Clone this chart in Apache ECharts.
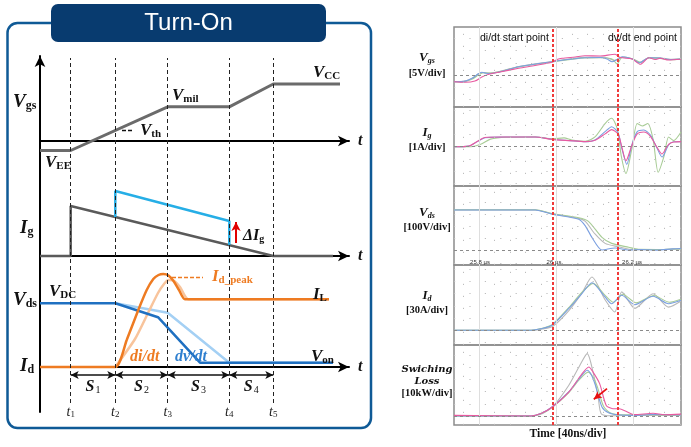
<!DOCTYPE html>
<html>
<head>
<meta charset="utf-8">
<script src="https://cdn.jsdelivr.net/npm/echarts@6/dist/echarts.min.js"></script>
<style>
html, body { margin: 0; padding: 0; background: #fff; }
#chart { width: 691px; height: 447px; }
</style>
</head>
<body>
<div id="chart"></div>
<script>
// ---------- left: turn-on sketch (time measured from the vertical axis) ----------
const tMarks = [30.7, 75.3, 127.7, 189.3, 233.3];
const tNames = ['1', '2', '3', '4', '5'];

const vgsTime = [0, 30.7, 127.7, 189.3, 233.3, 300];
const vgsLevel = [-2.5, -2.5, 9, 9, 15, 15];
const vthLevel = 2.9;

const igTime = [0, 30.7, 30.7, 233.3, 293];
const igLevel = [0, 0, 5, 0, 0];
const igBoostTime = [75.3, 75.3, 189.3, 189.3];
const igBoostLevel = [3.9, 6.5, 3.5, 1.1];

const vdsTime = [0, 75.3, 118, 160, 293];
const vdsLevel = [6.37, 6.37, 4.98, 0.43, 0.43];
const vdsRefTime = [75.3, 127.7, 189.3, 293];
const vdsRefLevel = [6.37, 5.43, 0.43, 0.43];
const idTime = [0, 75.3, 86.7, 98.3, 106.7, 113.3, 118.5, 123.3, 128.5, 133.5, 139, 145, 289];
const idLevel = [0, 0, 2.7, 5.7, 7.7, 8.8, 9.2, 9.3, 9.15, 8.6, 7.7, 6.77, 6.77];
const idRefTime = [75.3, 95, 108, 118, 124, 128.5, 133.5, 140, 148.3, 289];
const idRefLevel = [0, 2.8, 5.4, 7.4, 8.3, 8.7, 8.65, 8.0, 6.77, 6.77];
const idPeakLevel = 9.0;

// ---------- right: measured waveforms [time ns, divisions above baseline] ----------
const vgsGrey = [[25736,-0.55],[25765,-0.5],[25784,-0.25],[25799,0.1],[25810,0.2],[25830,0.16],[25903,0.7],[25989,1.1],[26074,1.45],[26125,1.45],[26150,1.2],[26162,1.35],[26175,1.48],[26196,1.33],[26216,1.02],[26239,1.44],[26268,1.4],[26294,1.28],[26322,1.32]];
const vgsGreen = [[25736,-0.55],[25765,-0.52],[25785,-0.3],[25800,0.02],[25812,0.18],[25830,0.15],[25903,0.66],[25989,1.07],[26074,1.4],[26120,1.42],[26145,1.3],[26157,0.9],[26170,1.45],[26196,1.33],[26218,1.05],[26239,1.4],[26268,1.36],[26294,1.25],[26322,1.3]];
const vgsBlue = [[25736,-0.55],[25765,-0.5],[25783,-0.27],[25798,0.08],[25808,0.22],[25819,0.14],[25829,0.12],[25903,0.68],[25989,1.09],[26074,1.42],[26113,1.43],[26131,1.31],[26144,1.09],[26155,1.23],[26170,1.5],[26196,1.31],[26215,1.0],[26239,1.42],[26268,1.39],[26294,1.27],[26322,1.31]];
const vgsPink = [[25736,-0.55],[25765,-0.6],[25790,-0.5],[25808,-0.16],[25826,0.06],[25855,0.25],[25903,0.55],[25945,0.78],[25989,1.04],[26002,1.27],[26015,1.37],[26049,1.48],[26074,1.58],[26113,1.56],[26152,1.7],[26165,1.43],[26196,1.31],[26217,0.88],[26239,1.42],[26255,1.27],[26268,1.37],[26290,1.23],[26322,1.29]];

const igGreen = [[25736,0],[25780,0],[25805,0.2],[25830,0.62],[25870,0.78],[25946,0.8],[25990,0.65],[26020,0.72],[26040,0.55],[26075,0.45],[26100,0.8],[26126,1.9],[26143,2.33],[26158,1.4],[26168,-0.8],[26180,-2.2],[26195,-0.2],[26209,1.9],[26222,1.7],[26236,1.9],[26250,0.6],[26263,-2.1],[26278,-0.8],[26290,0.8],[26303,0.5],[26322,1.2]];
const igBlue = [[25736,0],[25774,0.05],[25799,0.47],[25816,0.74],[25860,0.79],[25946,0.8],[25989,0.61],[26035,0.5],[26075,0.41],[26100,0.55],[26126,1.23],[26143,1.64],[26160,1.1],[26169,-0.11],[26182,-1.45],[26195,0.14],[26209,1.23],[26226,1.37],[26243,0.96],[26260,-0.11],[26273,-0.85],[26290,0.14],[26303,0.41],[26322,0.41]];
const igPink = [[25736,0],[25774,0.05],[25797,0.45],[25815,0.76],[25860,0.8],[25946,0.8],[25989,0.6],[26035,0.5],[26075,0.42],[26100,0.52],[26126,1.05],[26143,1.4],[26160,1.0],[26169,0],[26180,-1.15],[26195,0.1],[26209,1.05],[26226,1.2],[26243,0.85],[26260,-0.05],[26273,-0.6],[26290,0.2],[26303,0.38],[26322,0.42]];

const vdsGrey = [[25736,3.34],[25946,3.34],[25989,3.02],[26058,2.65],[26075,2.4],[26100,1.37],[26126,0.6],[26160,0.33],[26200,0.08],[26250,0.08],[26300,0.12],[26322,0.15]];
const vdsGreen = [[25736,3.36],[25946,3.36],[25989,3.05],[26058,2.7],[26083,2.41],[26118,1.09],[26143,0.6],[26187,0.28],[26212,0.11],[26260,0.1],[26300,0.14],[26322,0.15]];
const vdsBlue = [[25736,3.34],[25946,3.34],[25989,3.0],[26058,2.58],[26075,2.04],[26092,1.09],[26118,0.06],[26152,0.22],[26187,0.06],[26220,0.1],[26260,0.05],[26300,0.15],[26322,0.18]];

const idGrey = [[25736,0],[25940,0],[25965,0.1],[25992,0.35],[26032,1.6],[26066,3.05],[26092,4.37],[26126,2.5],[26151,1.5],[26169,3.15],[26203,1.8],[26250,3.0],[26290,1.9],[26322,2.4]];
const idGreen = [[25736,0],[25935,0],[25960,0.14],[25989,0.45],[26032,1.85],[26066,3.1],[26095,3.85],[26128,2.8],[26147,2.3],[26172,2.95],[26206,2.25],[26252,2.85],[26292,2.3],[26322,2.55]];
const idBlue = [[25736,0],[25935,0],[25960,0.12],[25989,0.41],[26032,1.77],[26066,3.0],[26092,3.9],[26126,2.73],[26143,2.18],[26169,2.87],[26203,2.1],[26250,2.79],[26290,2.18],[26322,2.46]];

const lossGrey = [[25736,0],[25940,0],[25965,0.2],[25992,0.8],[26032,2.5],[26060,4.1],[26080,5.11],[26095,3.6],[26108,1.6],[26116,0.19],[26140,0.02],[26200,0.05],[26322,0.05]];
const lossGreen = [[25736,0],[25935,0],[25960,0.18],[25989,0.7],[26032,1.9],[26060,3.0],[26082,3.6],[26095,3.2],[26106,2.4],[26122,0.8],[26140,0.25],[26170,0.1],[26250,0.1],[26322,0.08]];
const lossBlue = [[25736,0],[25935,0],[25960,0.2],[25989,0.74],[26032,1.97],[26060,3.1],[26080,3.75],[26090,3.4],[26101,2.52],[26118,0.74],[26135,0.27],[26160,0.1],[26200,0.05],[26250,0.12],[26322,0.08]];
const lossPink = [[25736,0.05],[25935,0],[25960,0.2],[25989,0.72],[26032,1.95],[26065,3.4],[26084,4.02],[26095,3.6],[26112,2.65],[26129,0.87],[26146,0.6],[26163,0.6],[26180,0.39],[26202,0.11],[26250,0.22],[26280,0.1],[26322,0.15]];

const scopeMarks = [25800, 26000, 26200];
const scopeMarkNames = ['25.8 \u00b5s', '26 \u00b5s', '26.2 \u00b5s'];
const cursorTimes = [25992, 26160];
const lossArrow = [[26131, 2.24], [26097, 1.37]];
const panelNames = ['V|gs', 'I|g', 'V|ds', 'I|d', 'Swiching Loss'];
const panelScales = ['[5V/div]', '[1A/div]', '[100V/div]', '[30A/div]', '[10kW/div]'];

// ---------- layout ----------
const SERIF = '"Liberation Serif","Times New Roman",serif';
const SANS = '"Liberation Sans",Arial,sans-serif';
const BLACK = '#111';
const ORANGE = '#ee7b22';
const PINK = '#e85aa0', BLUE = '#7a9fe0', GREEN = '#a8cc96', GREY = '#b8b8b8';

const zip = (a, b) => a.map((v, i) => [v, b[i]]);

const grids = [], xAxes = [], yAxes = [], series = [];
const hidden = { show: false };

function band(base, scale, lo, hi) {
  return { left: 40, width: 309, top: base - hi * scale, height: (hi - lo) * scale };
}
function addGrid(g, xa, ya) {
  grids.push(Object.assign({ outerBoundsMode: 'none', containLabel: false }, g));
  const i = grids.length - 1;
  xAxes.push(Object.assign({ gridIndex: i, type: 'value' }, xa));
  yAxes.push(Object.assign({ gridIndex: i, type: 'value' }, ya));
  return i;
}
const arrowX = {
  min: 0, max: 309,
  axisLine: { show: true, onZero: true, symbol: ['none', 'arrow'], symbolSize: [8, 11], lineStyle: { color: '#000', width: 2 } },
  axisTick: hidden, axisLabel: hidden, splitLine: hidden
};
const plainY = (lo, hi) => ({ min: lo, max: hi, axisLine: hidden, axisTick: hidden, axisLabel: hidden, splitLine: hidden });

const gVgs = addGrid(band(141, 3.8, -10.5, 21.6), arrowX, plainY(-10.5, 21.6));
const gIg = addGrid(band(256, 10, -0.6, 7.5), arrowX, plainY(-0.6, 7.5));
const gId = addGrid(band(367, 10, -3.6, 10.5), arrowX, plainY(-3.6, 10.5));
const gFrame = addGrid({ left: 40, width: 309, top: 56, height: 356 },
  { min: 0, max: 309, show: false },
  { min: 0, max: 1, axisLine: { show: true, onZero: false, symbol: ['none', 'arrow'], symbolSize: [8, 11], lineStyle: { color: '#000', width: 2 } },
    axisTick: hidden, axisLabel: hidden, splitLine: hidden });
const gDash = addGrid({ left: 40, width: 309, top: 58, height: 345 },
  { min: 0, max: 309, show: false }, { min: 0, max: 1, show: false });

function subRich(size, color) {
  return {
    i: { fontFamily: SERIF, fontStyle: 'italic', fontWeight: 'bold', fontSize: size, color: color },
    s: { fontFamily: SERIF, fontSize: Math.round(size * 0.62), color: color, verticalAlign: 'bottom', padding: [0, 0, 0, 1] }
  };
}
function lineSeries(grid, data, color, width, extra) {
  return Object.assign({
    type: 'line', xAxisIndex: grid, yAxisIndex: grid, data: data,
    symbol: 'none', showSymbol: false, silent: true, animation: false,
    lineStyle: { color: color, width: width }
  }, extra || {});
}

// Vgs with Vth marker
series.push(lineSeries(gVgs, zip(vgsTime, vgsLevel), '#6b6b6b', 3, {
  markLine: { silent: true, animation: false, symbol: 'none', label: { show: false },
    data: [[{ coord: [82, vthLevel], lineStyle: { color: BLACK, type: [4, 2], width: 1.3 } }, { coord: [93, vthLevel] }]] }
}));
// Ig
series.push(lineSeries(gIg, zip(igTime, igLevel), '#5a5a5a', 2.5));
series.push(lineSeries(gIg, zip(igBoostTime, igBoostLevel), '#26aee6', 2.5, {
  markLine: { silent: true, animation: false, symbol: ['none', 'arrow'], symbolSize: [7, 9], label: { show: false },
    data: [[{ coord: [196, 1.3], lineStyle: { color: '#e00000', type: 'solid', width: 2 } }, { coord: [196, 3.4] }]] }
}));
// Vds / Id
series.push(lineSeries(gId, zip(vdsRefTime, vdsRefLevel), '#a4d0f4', 2.5));
series.push(lineSeries(gId, zip(idRefTime, idRefLevel), '#f8c49c', 2.5, { smooth: 0.2 }));
series.push(lineSeries(gId, zip(vdsTime, vdsLevel), '#1f70c1', 2.5));
series.push(lineSeries(gId, zip(idTime, idLevel), ORANGE, 2.5, {
  smooth: 0.2,
  markLine: { silent: true, animation: false, symbol: 'none', label: { show: false },
    data: [[{ coord: [132, idPeakLevel], lineStyle: { color: ORANGE, type: [4, 2], width: 1.3 } }, { coord: [163, idPeakLevel] }]] }
}));
// S intervals
series.push(lineSeries(gId, [], BLACK, 1, {
  markLine: {
    silent: true, animation: false, symbol: ['arrow', 'arrow'], symbolSize: [6, 8],
    data: tMarks.slice(0, 4).map((t, i) => [
      { coord: [t, -0.8], lineStyle: { color: BLACK, type: 'solid', width: 1.5 },
        label: { show: true, position: 'insideMiddleBottom', distance: 4,
          formatter: '{i|S}{s|' + (i + 1) + '}', rich: subRich(16, BLACK) } },
      { coord: [tMarks[i + 1], -0.8] }
    ])
  }
}));
// dashed time marks with t labels
series.push(lineSeries(gDash, [], BLACK, 1, {
  markLine: {
    silent: true, animation: false, symbol: 'none',
    data: tMarks.map((t, i) => ({
      xAxis: t, lineStyle: { color: '#222', type: [4, 3], width: 1 },
      label: { show: true, position: 'start', distance: 2, formatter: '{i|t}{s|' + tNames[i] + '}', rich: {
        i: { fontFamily: SERIF, fontStyle: 'italic', fontSize: 14, color: '#222' },
        s: { fontFamily: SERIF, fontSize: 9, color: '#222', verticalAlign: 'bottom' } } }
    }))
  }
}));

// ---------- right panels ----------
const panelTop = [27, 107, 186, 265, 345];
const panelBottom = [107, 186, 265, 345, 425];
const panelBase = [75, 146.7, 250.7, 330.3, 416];
const DIV_PX = 12.2;
const panelTraces = [
  [vgsGrey, vgsGreen, vgsBlue, vgsPink],
  [igGreen, igBlue, igPink],
  [vdsGrey, vdsGreen, vdsBlue],
  [idGrey, idGreen, idBlue],
  [lossGrey, lossGreen, lossBlue, lossPink]
];
const panelColors = [
  [GREY, GREEN, BLUE, PINK],
  [GREEN, BLUE, PINK],
  [GREY, GREEN, BLUE],
  [GREY, GREEN, BLUE],
  [GREY, GREEN, BLUE, PINK]
];
const divTimes = [];
for (let t = 25760; t < 26322; t += 40) divTimes.push(t);

panelTop.forEach((top, p) => {
  const lo = -(panelBottom[p] - panelBase[p]) / DIV_PX;
  const hi = (panelBase[p] - top) / DIV_PX;
  const g = addGrid(
    { left: 454, width: 227, top: top, height: panelBottom[p] - top, show: true, borderColor: '#8c8c8c', borderWidth: 1.5 },
    { min: 25736, max: 26322, show: false },
    { min: lo, max: hi, show: false });
  const rows = [];
  for (let v = Math.ceil(lo); v <= Math.floor(hi); v++) rows.push(v);
  const lines = []
    .concat(divTimes.map(t => ({ xAxis: t, lineStyle: { color: '#bdbdbd', type: [1.2, 10.8], width: 1 } })))
    .concat(rows.filter(v => v !== 0).map(v => ({ yAxis: v, lineStyle: { color: '#bdbdbd', type: [1.2, 14.2], width: 1 } })))
    .concat(scopeMarks.map(t => ({ xAxis: t, lineStyle: { color: '#dedede', type: 'solid', width: 1 } })))
    .concat([{ yAxis: 0, lineStyle: { color: '#8a8a8a', type: [3, 3], width: 1 } }]);
  series.push(lineSeries(g, [], '#000', 1, {
    z: 1,
    markLine: { silent: true, animation: false, symbol: 'none', label: { show: false }, data: lines }
  }));
  panelTraces[p].forEach((tr, k) => {
    series.push(lineSeries(g, tr, panelColors[p][k], 1.1, { smooth: 0.25, z: 3 }));
  });
  series.push(lineSeries(g, [], '#000', 1, {
    z: 5,
    markLine: { silent: true, animation: false, symbol: 'none', label: { show: false },
      data: cursorTimes.map(t => ({ xAxis: t, lineStyle: { color: '#f03a3a', type: [3, 2], width: 2 } })) }
  }));
  if (p === 4) {
    series.push(lineSeries(g, [], '#000', 1, {
      z: 6,
      markLine: { silent: true, animation: false, symbol: ['none', 'arrow'], symbolSize: [6, 8], label: { show: false },
        data: [[{ coord: lossArrow[0], lineStyle: { color: '#e81010', type: 'solid', width: 1.8 } }, { coord: lossArrow[1] }]] }
    }));
  }
});

// ---------- graphic decorations & labels ----------
function lab(x, y, main, sub, color, size, align, subItalic) {
  return {
    type: 'text', x: x, y: y, silent: true, z: 20,
    style: {
      text: sub ? '{m|' + main + '}{s|' + sub + '}' : '{m|' + main + '}',
      align: align || 'left', verticalAlign: 'middle',
      rich: {
        m: { fontFamily: SERIF, fontStyle: 'italic', fontWeight: 'bold', fontSize: size, fill: color },
        s: { fontFamily: SERIF, fontStyle: subItalic ? 'italic' : 'normal', fontWeight: 'bold', fontSize: Math.round(size * 0.64), fill: color, verticalAlign: 'bottom' }
      }
    }
  };
}
function plain(x, y, text, font, color, align) {
  return { type: 'text', x: x, y: y, silent: true, z: 20,
    style: { text: text, font: font, fill: color || BLACK, align: align || 'center', verticalAlign: 'middle' } };
}

const graphic = [
  { type: 'rect', silent: true, z: 0, shape: { x: 7.5, y: 23, width: 363.5, height: 405, r: 10 },
    style: { fill: 'none', stroke: '#0f5a96', lineWidth: 2.5 } },
  { type: 'rect', silent: true, z: 1, shape: { x: 51, y: 4, width: 275, height: 38, r: 7 }, style: { fill: '#083b6f' } },
  plain(188.5, 23.5, 'Turn-On', '24px ' + SANS, '#ffffff'),
  lab(13, 102, 'V', 'gs', BLACK, 19),
  lab(20, 228, 'I', 'g', BLACK, 19),
  lab(13, 300, 'V', 'ds', BLACK, 19),
  lab(20, 366, 'I', 'd', BLACK, 19),
  lab(172, 96, 'V', 'mil', BLACK, 17),
  lab(313, 73, 'V', 'CC', BLACK, 17),
  lab(45, 163, 'V', 'EE', BLACK, 17),
  lab(140, 131, 'V', 'th', BLACK, 17),
  lab(49, 292, 'V', 'DC', BLACK, 17),
  lab(212, 277, 'I', 'd_peak', ORANGE, 17),
  lab(313, 295, 'I', 'L', BLACK, 17),
  lab(311, 357, 'V', 'on', BLACK, 17),
  lab(243, 236, '\u0394I', 'g', BLACK, 16),
  lab(130, 357, 'di/dt', '', ORANGE, 16),
  lab(175, 357, 'dv/dt', '', '#2f7fcf', 16),
  lab(358, 141, 't', '', BLACK, 16),
  lab(358, 256, 't', '', BLACK, 16),
  lab(358, 367, 't', '', BLACK, 16),
  plain(480, 38, 'di/dt start point', '10.5px ' + SANS, BLACK, 'left'),
  plain(608, 38, 'dv/dt end point', '10.5px ' + SANS, BLACK, 'left'),
  plain(568, 434, 'Time [40ns/div]', 'bold 11.5px ' + SERIF)
];
scopeMarks.forEach((t, i) => {
  graphic.push(plain([480, 554, 632][i], 262, scopeMarkNames[i], '6px ' + SANS, '#333'));
});
const labelY = [[58, 73], [133, 147], [213, 227], [296, 310], [369, 393]];
panelNames.forEach((n, p) => {
  if (n.indexOf('|') >= 0) {
    const parts = n.split('|');
    graphic.push(lab(427, labelY[p][0], parts[0], parts[1], BLACK, 13, 'center', true));
  } else {
    const words = n.split(' ');
    graphic.push(plain(427, labelY[p][0], words[0], 'italic bold 10px "DejaVu Serif",serif'));
    graphic.push(plain(427, labelY[p][0] + 12, words[1], 'italic bold 10px "DejaVu Serif",serif'));
  }
  graphic.push(plain(427, labelY[p][1], panelScales[p], 'bold 10.5px ' + SERIF));
});

const chart = echarts.init(document.getElementById('chart'));
chart.setOption({
  animation: false,
  backgroundColor: '#ffffff',
  textStyle: { fontFamily: SERIF },
  grid: grids,
  xAxis: xAxes,
  yAxis: yAxes,
  series: series,
  graphic: graphic
});
</script>
</body>
</html>
